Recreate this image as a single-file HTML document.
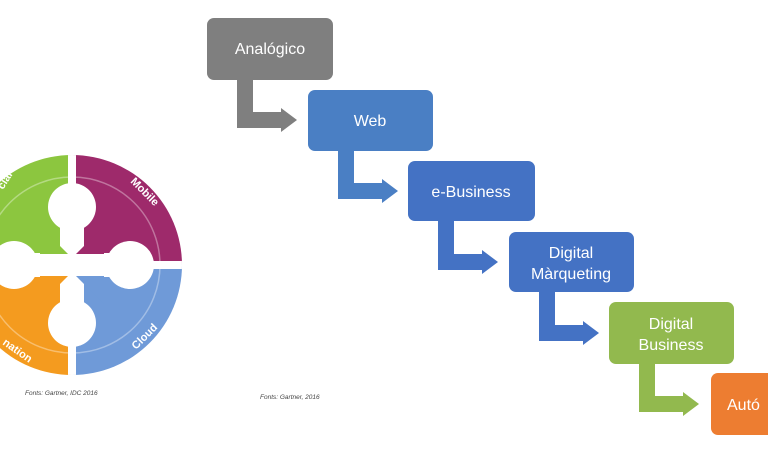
<!DOCTYPE html>
<html><head><meta charset="utf-8"><style>
body{margin:0;background:#fff;}
svg{display:block}
</style></head><body>
<svg width="768" height="460" viewBox="0 0 768 460" xmlns="http://www.w3.org/2000/svg" font-family="Liberation Sans, sans-serif">
<defs>
<clipPath id="c"><circle cx="72" cy="265" r="110"/></clipPath>
<g id="arr"><path d="M30 0 H46 V33 H74 V29 L90 41 L74 53 V49 H30 Z" /></g>
</defs>
<g clip-path="url(#c)">
<rect x="-40" y="155" width="112" height="110" fill="#8cc63f"/>
<rect x="72" y="155" width="112" height="110" fill="#9e2a6b"/>
<rect x="72" y="265" width="112" height="110" fill="#6f9ad8"/>
<rect x="-40" y="265" width="112" height="110" fill="#f49b1f"/>
<g fill="#fff">
<rect x="68" y="150" width="8" height="230"/>
<rect x="-40" y="261" width="230" height="8"/>
<circle cx="72" cy="207" r="24"/>
<circle cx="72" cy="323" r="24"/>
<circle cx="130" cy="265" r="24"/>
<circle cx="14" cy="265" r="24"/>
<rect x="60" y="225" width="24" height="80"/>
<rect x="32" y="253" width="80" height="24"/>
</g>
<g>
<polygon points="40,226 68,254 40,254" fill="#8cc63f"/>
<polygon points="104,226 76,254 104,254" fill="#9e2a6b"/>
<polygon points="104,304 76,276 104,276" fill="#6f9ad8"/>
<polygon points="40,304 68,276 40,276" fill="#f49b1f"/>
</g>
<circle cx="72" cy="265" r="88" fill="none" stroke="#fff" stroke-opacity="0.35" stroke-width="1.5"/>
</g>
<g fill="#fff" font-size="11" font-weight="bold">
<text transform="translate(3,190) rotate(-58)">cial</text>
<text transform="translate(130,182) rotate(45)">Mobile</text>
<text transform="translate(136,350) rotate(-45)">Cloud</text>
<text transform="translate(2,344) rotate(35)">nation</text>
</g>
<text x="25" y="395" font-size="6.5" font-style="italic" fill="#444">Fonts: Gartner, IDC 2016</text>
<text x="260" y="399" font-size="6.5" font-style="italic" fill="#444">Fonts: Gartner, 2016</text>
<use href="#arr" transform="translate(207,79)" fill="#7f7f7f"/>
<use href="#arr" transform="translate(308,150)" fill="#4a7fc4"/>
<use href="#arr" transform="translate(408,221)" fill="#4472c4"/>
<use href="#arr" transform="translate(509,292)" fill="#4472c4"/>
<use href="#arr" transform="translate(609,363)" fill="#92b94e"/>
<g font-size="16" fill="#fff" text-anchor="middle">
<rect x="207" y="18" width="126" height="62" rx="7" fill="#7f7f7f"/>
<text x="270" y="54">Analógico</text>
<rect x="308" y="90" width="125" height="61" rx="7" fill="#4a7fc4"/>
<text x="370" y="126">Web</text>
<rect x="408" y="161" width="127" height="60" rx="7" fill="#4472c4"/>
<text x="471" y="197">e-Business</text>
<rect x="509" y="232" width="125" height="60" rx="7" fill="#4472c4"/>
<text x="571" y="258">Digital</text>
<text x="571" y="279">Màrqueting</text>
<rect x="609" y="302" width="125" height="62" rx="7" fill="#92b94e"/>
<text x="671" y="329">Digital</text>
<text x="671" y="350">Business</text>
<rect x="711" y="373" width="90" height="62" rx="7" fill="#ed7d31"/>
<text x="727" y="410" text-anchor="start">Autó</text>
</g>
</svg>
</body></html>
